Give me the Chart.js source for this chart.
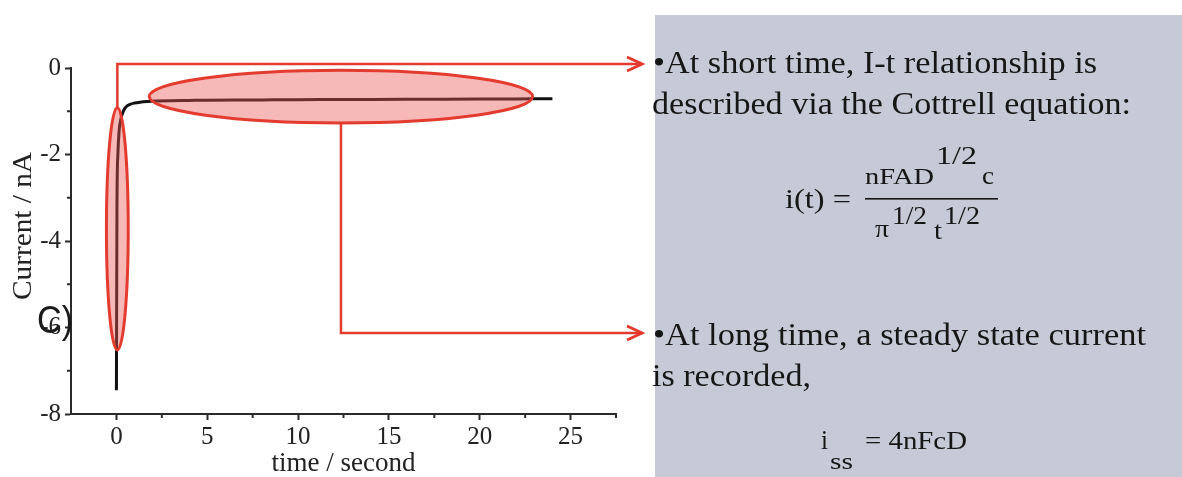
<!DOCTYPE html>
<html>
<head>
<meta charset="utf-8">
<script src="https://cdn.jsdelivr.net/npm/chart.js@4.4.1/dist/chart.umd.min.js"></script>
<style>
  html, body { margin: 0; padding: 0; background: #ffffff; }
  #wrap { position: relative; width: 1182px; height: 477px; overflow: hidden; }
  canvas { display: block; }
</style>
</head>
<body>
<div id="wrap"><canvas id="c" width="1182" height="477"></canvas></div>
<script>
// ---- data ----
const timeSec = [0, 0.03, 0.08, 0.15, 0.25, 0.4, 0.55, 0.75, 1.0, 1.3, 1.7, 2.2, 3, 4, 5, 6.5, 8, 10, 12, 14, 16, 18, 20, 22, 24];
const currentNA = [-7.45, -3.2, -2.0, -1.45, -1.17, -0.98, -0.89, -0.84, -0.81, -0.79, -0.775, -0.765, -0.755, -0.75, -0.745, -0.74, -0.737, -0.733, -0.73, -0.727, -0.724, -0.721, -0.718, -0.715, -0.712];
const xTickLabels = [0, 5, 10, 15, 20, 25];
const yTickLabels = [0, -2, -4, -6, -8];
const xTitle = 'time / second';
const yTitle = 'Current / nA';
const panelLabel = 'C)';

// annotation shapes, in data units
const shortEllipse = { cx: 0.05, cy: -3.72, rx: 0.6, ry: 2.8 };
const longEllipse = { cx: 12.36, cy: -0.66, rx: 10.55, ry: 0.61 };

const points = timeSec.map((t, i) => ({ x: t, y: currentNA[i] }));

const RED = '#e43b2f';
const SERIF = '"Liberation Serif", "Times New Roman", serif';
const SANS = '"Liberation Sans", Arial, sans-serif';

function fitText(ctx, str, x, y, size, width, family) {
  ctx.save();
  ctx.font = size + 'px ' + (family || SERIF);
  ctx.textBaseline = 'alphabetic';
  ctx.textAlign = 'left';
  const w = ctx.measureText(str).width;
  ctx.translate(x, y);
  if (width) ctx.scale(width / w, 1);
  ctx.fillText(str, 0, 0);
  ctx.restore();
}

function arrowHead(ctx, x, y) {
  ctx.beginPath();
  ctx.moveTo(x - 15, y - 7);
  ctx.lineTo(x, y);
  ctx.lineTo(x - 15, y + 7);
  ctx.stroke();
}

const decor = {
  id: 'decor',
  beforeDraw(chart) {
    const ctx = chart.ctx;
    ctx.save();
    ctx.fillStyle = '#c5cad6';
    ctx.fillRect(655, 15, 527, 462);
    ctx.restore();
  },
  afterDatasetsDraw(chart) {
    const ctx = chart.ctx;
    const xs = chart.scales.x, ys = chart.scales.y;
    const px = v => xs.getPixelForValue(v), py = v => ys.getPixelForValue(v);

    // minor ticks
    ctx.save();
    ctx.strokeStyle = '#2a2a2a';
    ctx.lineWidth = 2;
    for (let v = -7; v <= -1; v += 2) {
      const y = py(v);
      ctx.beginPath(); ctx.moveTo(xs.left - 4, y); ctx.lineTo(xs.left, y); ctx.stroke();
    }
    for (let v = 2.5; v <= 27.5; v += 5) {
      const x = px(v);
      ctx.beginPath(); ctx.moveTo(x, ys.bottom); ctx.lineTo(x, ys.bottom + 4); ctx.stroke();
    }
    ctx.restore();

    // ellipses
    ctx.save();
    ctx.lineWidth = 3;
    ctx.strokeStyle = RED;
    ctx.fillStyle = 'rgba(236, 85, 85, 0.42)';
    [shortEllipse, longEllipse].forEach(e => {
      const cx = px(e.cx), cy = py(e.cy);
      const rx = Math.abs(px(e.cx + e.rx) - cx), ry = Math.abs(py(e.cy + e.ry) - cy);
      ctx.beginPath();
      ctx.ellipse(cx, cy, rx, ry, 0, 0, Math.PI * 2);
      ctx.fill();
      ctx.stroke();
    });

    // connectors
    ctx.lineWidth = 2.5;
    ctx.lineJoin = 'miter';
    const tipX = 642;
    const topY = 64;
    const s1x = px(shortEllipse.cx), s1y = py(shortEllipse.cy + shortEllipse.ry);
    ctx.beginPath();
    ctx.moveTo(s1x, s1y);
    ctx.lineTo(s1x, topY);
    ctx.lineTo(tipX, topY);
    ctx.stroke();
    ctx.lineWidth = 3;
    arrowHead(ctx, tipX, topY);

    ctx.lineWidth = 2.5;
    const lowY = 333;
    const s2x = px(longEllipse.cx), s2y = py(longEllipse.cy - longEllipse.ry);
    ctx.beginPath();
    ctx.moveTo(s2x, s2y);
    ctx.lineTo(s2x, lowY);
    ctx.lineTo(tipX, lowY);
    ctx.stroke();
    ctx.lineWidth = 3;
    arrowHead(ctx, tipX, lowY);
    ctx.restore();
  },
  afterDraw(chart) {
    const ctx = chart.ctx;
    ctx.save();
    // y title
    ctx.fillStyle = '#222';
    ctx.save();
    ctx.translate(31, 300);
    ctx.rotate(-Math.PI / 2);
    fitText(ctx, yTitle, 0, 0, 28, 148);
    ctx.restore();

    // panel label
    ctx.fillStyle = '#1a1a1a';
    fitText(ctx, panelLabel, 37, 333, 39, 36, SANS);

    // right panel text
    ctx.fillStyle = '#161616';
    fitText(ctx, '\u2022At short time, I-t relationship is', 653, 73, 31, 444);
    fitText(ctx, 'described via the Cottrell equation:', 652, 114, 31, 479);
    fitText(ctx, 'i(t) =', 785, 208, 27, 66);
    fitText(ctx, 'nFAD', 865, 184, 24, 69);
    fitText(ctx, '1/2', 936, 164, 25, 41);
    fitText(ctx, 'c', 982, 184, 26, 12);
    ctx.fillRect(865, 198, 133, 1.6);
    fitText(ctx, '\u03c0', 875, 237, 26, 14);
    fitText(ctx, '1/2', 892, 224, 25, 35);
    fitText(ctx, 't', 934, 239, 26, 8);
    fitText(ctx, '1/2', 944, 224, 25, 36);

    fitText(ctx, '\u2022At long time, a steady state current', 653, 345, 31, 493);
    fitText(ctx, 'is recorded,', 652, 386, 31, 159);
    fitText(ctx, 'i', 821, 449, 27, 7);
    fitText(ctx, 'ss', 830, 469, 24, 23);
    fitText(ctx, '= 4nFcD', 865, 449, 26, 102);
    ctx.restore();
  }
};

new Chart(document.getElementById('c'), {
  type: 'line',
  data: {
    datasets: [{
      data: points,
      borderColor: '#111',
      borderWidth: 3,
      pointRadius: 0,
      fill: false,
      cubicInterpolationMode: 'monotone'
    }]
  },
  options: {
    responsive: false,
    devicePixelRatio: 1,
    animation: false,
    parsing: false,
    layout: { padding: { left: 0, right: 566, top: 68, bottom: 0 } },
    plugins: { legend: { display: false }, tooltip: { enabled: false } },
    scales: {
      x: {
        type: 'linear',
        min: -2.5, max: 27.5,
        afterFit: s => { s.height = 63; },
        border: { display: true, color: '#2a2a2a', width: 2 },
        grid: {
          drawOnChartArea: false, drawTicks: true, tickLength: 6, tickWidth: 2,
          tickColor: c => (c.tick && xTickLabels.includes(c.tick.value)) ? '#2a2a2a' : 'rgba(0,0,0,0)'
        },
        ticks: {
          stepSize: 2.5, autoSkip: false, maxRotation: 0, padding: 2,
          color: '#222',
          font: { family: SERIF, size: 25 },
          callback: v => xTickLabels.includes(v) ? String(v) : ''
        },
        title: {
          display: true, text: xTitle, color: '#222',
          font: { family: SERIF, size: 27, lineHeight: 1 },
          padding: { top: 0, bottom: 0 }
        }
      },
      y: {
        type: 'linear',
        min: -8, max: 0,
        afterFit: s => { s.width = 71; },
        border: { display: true, color: '#2a2a2a', width: 2 },
        grid: {
          drawOnChartArea: false, drawTicks: true, tickLength: 6, tickWidth: 2,
          tickColor: c => (c.tick && yTickLabels.includes(c.tick.value)) ? '#2a2a2a' : 'rgba(0,0,0,0)'
        },
        ticks: {
          stepSize: 1, autoSkip: false, padding: 4,
          color: '#222',
          font: { family: SERIF, size: 25 },
          callback: v => yTickLabels.includes(v) ? String(v) : ''
        }
      }
    }
  },
  plugins: [decor]
});
</script>
</body>
</html>
